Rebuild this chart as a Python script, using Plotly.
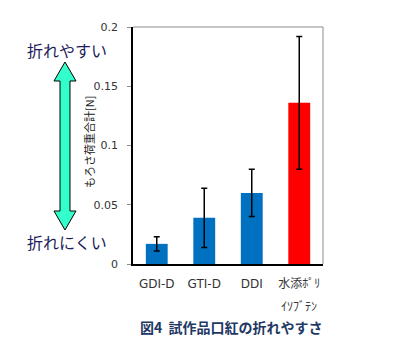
import plotly.graph_objects as go

# Breaking-load totals for trial lipsticks
categories = ["GDI-D", "GTI-D", "DDI", "水添ﾎﾟﾘ"]
values = [0.017, 0.039, 0.060, 0.136]
errors = [0.006, 0.025, 0.020, 0.056]
bar_colors = ["#0070C0", "#0070C0", "#0070C0", "#FF0000"]
y_ticks = [0, 0.05, 0.1, 0.15, 0.2]
y_tick_labels = ["0", "0.05", "0.1", "0.15", "0.2"]

W, H = 400, 340
ML, MR, MT, MB = 133, 77, 27, 76
PW, PH = W - ML - MR, H - MT - MB


def px(x):
    return (x - ML) / PW


def py(y):
    return (H - MB - y) / PH


JP = "Noto Sans CJK JP"
LAT = "DejaVu Sans, " + JP

fig = go.Figure(
    go.Bar(
        x=categories,
        y=values,
        marker=dict(color=bar_colors, line=dict(width=0)),
        width=0.46,
        error_y=dict(type="data", array=errors, color="black",
                     thickness=1.5, width=3),
    )
)

# double-headed arrow on the left
pts = [(65, 62), (76, 81), (70, 81), (70, 211), (76, 211), (65, 230),
       (54, 211), (60, 211), (60, 81), (54, 81)]
path = "M " + " L ".join(f"{px(a):.4f},{py(b):.4f}" for a, b in pts) + " Z"
shapes = [
    dict(type="path", xref="paper", yref="paper", path=path,
         fillcolor="#33FFCC", line=dict(color="black", width=1)),
    # grey frame on top and right
    dict(type="line", xref="paper", yref="paper", x0=0, x1=1, y0=1, y1=1,
         line=dict(color="#8c8c8c", width=1)),
    dict(type="line", xref="paper", yref="paper", x0=1, x1=1, y0=0, y1=1,
         line=dict(color="#8c8c8c", width=1)),
]


def note(text, x, y, size, color, xref="paper", **kw):
    return dict(text=text, x=x, y=y, xref=xref, yref="paper",
                xanchor="center", yanchor="middle", showarrow=False,
                font=dict(family=JP, size=size, color=color), **kw)


annotations = [
    note("折れやすい", px(67), py(50), 16, "#1c1c5a"),
    note("折れにくい", px(67), py(242), 16, "#1c1c5a"),
    note("もろさ荷重合計[N]", px(89), py(142), 11, "#222222", textangle=-90),
    note("ｲｿﾌﾞﾃﾝ", categories[3], py(305), 12, "#333333", xref="x"),
    note("<b>図4  試作品口紅の折れやすさ</b>", px(231), py(327), 14, "#1F3864"),
]

fig.update_layout(
    width=W, height=H,
    margin=dict(l=ML, r=MR, t=MT, b=MB, pad=0),
    paper_bgcolor="white", plot_bgcolor="white",
    showlegend=False,
    shapes=shapes,
    annotations=annotations,
    xaxis=dict(
        showline=True, linecolor="black", linewidth=1.5,
        ticks="", showgrid=False, ticklabelstandoff=8,
        tickfont=dict(family=LAT, size=12, color="#333333"),
    ),
    yaxis=dict(
        range=[0, 0.2], tickvals=y_ticks, ticktext=y_tick_labels,
        showline=True, linecolor="black", linewidth=1.5,
        ticks="outside", ticklen=4, tickcolor="#8c8c8c",
        showgrid=False, zeroline=False, ticklabelstandoff=7,
        tickfont=dict(family=LAT, size=11, color="#333333"),
    ),
)

fig.write_html("out.html")
